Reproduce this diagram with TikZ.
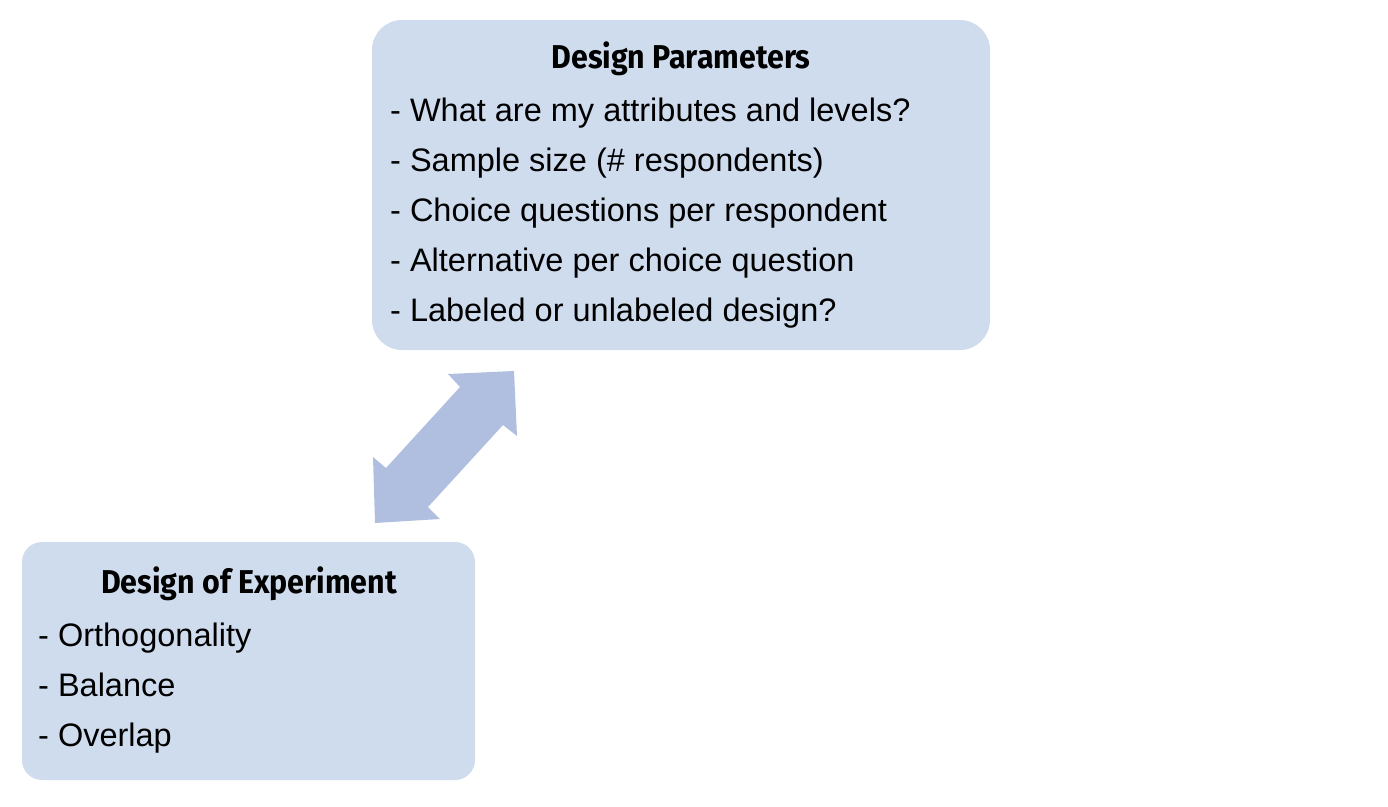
\documentclass[tikz,border=0pt]{standalone}
\usepackage{fontspec}
\setmainfont{Liberation Sans}
\newfontfamily\titlefont{Fira Sans}[FakeStretch=0.92]
\definecolor{boxfill}{HTML}{CFDCEE}
\definecolor{arrowfill}{HTML}{B0BEDF}
\begin{document}
\begin{tikzpicture}[x=1pt,y=-1pt,
  panel/.style={fill=boxfill,draw=none,rounded corners=#1},
  ttl/.style={font=\titlefont\bfseries\fontsize{33}{38}\selectfont,anchor=base,inner sep=0pt},
  itm/.style={font=\fontsize{32.5}{38}\selectfont,anchor=base west,inner sep=0pt}]
\useasboundingbox (0,0) rectangle (1388,806);
\fill[panel=30] (372,20) rectangle (990,350);
\fill[panel=20] (22,542) rectangle (475,780);
\node[ttl] (t1) at (681,68) {Design Parameters};
\node[itm] (a1) at (390,121) {- What are my attributes and levels?};
\node[itm] (a2) at (390,171) {- Sample size (\# respondents)};
\node[itm] (a3) at (390,221) {- Choice questions per respondent};
\node[itm] (a4) at (390,271) {- Alternative per choice question};
\node[itm] (a5) at (390,321) {- Labeled or unlabeled design?};
\node[ttl] (t2) at (249,593) {Design of Experiment};
\node[itm] (b1) at (38,646) {- Orthogonality};
\node[itm] (b2) at (38,696) {- Balance};
\node[itm] (b3) at (38,746) {- Overlap};
\fill[arrowfill] (514,371) -- (517,436) -- (503,425) -- (428,507) -- (440,519)
  -- (375,523) -- (373,457) -- (386,468) -- (460,387) -- (448,374) -- cycle;
\end{tikzpicture}
\end{document}
